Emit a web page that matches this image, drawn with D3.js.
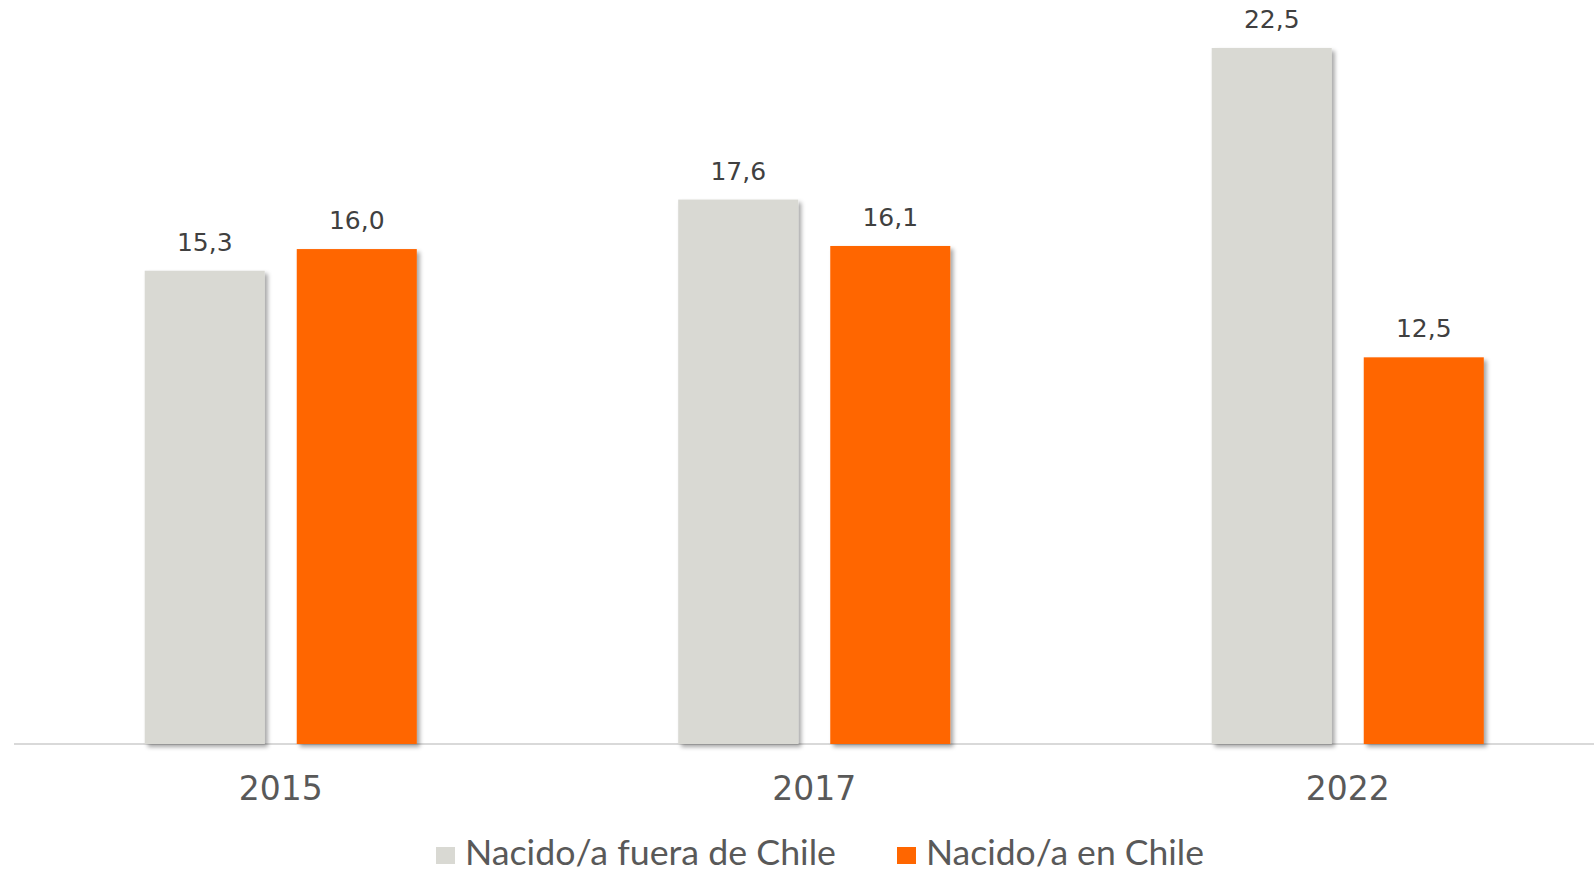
<!DOCTYPE html>
<html>
<head>
<meta charset="utf-8">
<script src="https://cdn.jsdelivr.net/npm/d3@7/dist/d3.min.js"></script>
<style>
  html, body { margin: 0; padding: 0; background: #ffffff; }
  svg { display: block; }
</style>
</head>
<body>
<svg id="chart" width="1594" height="870"></svg>
<script>
// Years shown on the horizontal axis
const years = ["2015", "2017", "2022"];
// Series names (legend order)
const seriesNames = ["Nacido/a fuera de Chile", "Nacido/a en Chile"];
// Percentages per year, one array per series
const fueraValues = [15.3, 17.6, 22.5];
const enChileValues = [16.0, 16.1, 12.5];
const seriesColors = ["#d9d9d3", "#ff6600"];

const rows = years.map((y, i) => ({
  year: y,
  values: [
    { key: seriesNames[0], value: fueraValues[i], color: seriesColors[0] },
    { key: seriesNames[1], value: enChileValues[i], color: seriesColors[1] }
  ]
}));

const svg = d3.select("#chart");
const fmt = v => v.toFixed(1).replace(".", ",");

// Drop shadow for the bars
const defs = svg.append("defs");
const f = defs.append("filter").attr("id", "barShadow")
  .attr("x", "-10%").attr("y", "-10%").attr("width", "130%").attr("height", "130%");
f.append("feDropShadow")
  .attr("dx", 3).attr("dy", 3).attr("stdDeviation", 2)
  .attr("flood-color", "#000").attr("flood-opacity", 0.35);

const x0 = d3.scaleBand().domain(years).range([14, 1614.5])
  .paddingInner(0.49).paddingOuter(0.245);
const x1 = d3.scaleBand().domain(seriesNames).range([0, x0.bandwidth()])
  .paddingInner(0.2105).paddingOuter(0);
const y = d3.scaleLinear().domain([0, 22.5]).range([744, 48]);

// Baseline
svg.append("line")
  .attr("x1", 14).attr("x2", 1594)
  .attr("y1", y(0)).attr("y2", y(0))
  .attr("stroke", "#d9d9d9").attr("stroke-width", 2);

const groups = svg.selectAll("g.year").data(rows).join("g")
  .attr("class", "year")
  .attr("transform", d => `translate(${x0(d.year)},0)`);

groups.selectAll("rect").data(d => d.values).join("rect")
  .attr("x", d => x1(d.key))
  .attr("width", x1.bandwidth())
  .attr("y", d => y(d.value))
  .attr("height", d => y(0) - y(d.value))
  .attr("fill", d => d.color)
  .attr("filter", "url(#barShadow)");

groups.selectAll("text.val").data(d => d.values).join("text")
  .attr("class", "val")
  .attr("x", d => x1(d.key) + x1.bandwidth() / 2)
  .attr("y", d => y(d.value) - 20)
  .attr("text-anchor", "middle")
  .attr("font-family", "DejaVu Sans")
  .attr("font-size", 25)
  .attr("fill", "#404040")
  .text(d => fmt(d.value));

// Category axis labels
const xAxis = d3.axisBottom(x0).tickSize(0).tickPadding(0);
const axisG = svg.append("g").attr("transform", `translate(0,${y(0)})`).call(xAxis);
axisG.select(".domain").remove();
axisG.selectAll("text")
  .attr("y", 56)
  .attr("dy", 0)
  .attr("font-family", "DejaVu Sans")
  .attr("font-size", 33)
  .attr("fill", "#595959");

// Legend
const legendItems = [
  { name: seriesNames[0], color: seriesColors[0], rx: 436, tx: 465, tw: 371 },
  { name: seriesNames[1], color: seriesColors[1], rx: 897, tx: 926, tw: 278 }
];
const lg = svg.append("g");
legendItems.forEach(it => {
  lg.append("rect")
    .attr("x", it.rx).attr("y", 847).attr("width", 19).attr("height", 17)
    .attr("fill", it.color);
  lg.append("text")
    .attr("x", it.tx).attr("y", 865)
    .attr("font-family", "Lato, sans-serif")
    .attr("font-size", 35)
    .attr("fill", "#595959")
    .attr("textLength", it.tw)
    .attr("lengthAdjust", "spacingAndGlyphs")
    .text(it.name);
});
</script>
</body>
</html>
